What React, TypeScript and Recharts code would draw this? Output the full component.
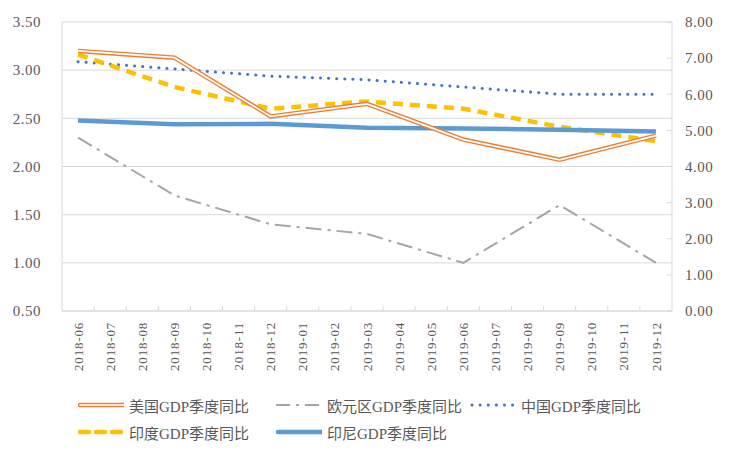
import { LineChart, Line, XAxis, YAxis, CartesianGrid } from 'recharts'

const months = [
  '2018-06', '2018-07', '2018-08', '2018-09', '2018-10', '2018-11', '2018-12',
  '2019-01', '2019-02', '2019-03', '2019-04', '2019-05', '2019-06', '2019-07',
  '2019-08', '2019-09', '2019-10', '2019-11', '2019-12',
]

// quarterly values, null for months in between
const usGdp = [3.2, null, null, 3.13, null, null, 2.52, null, null, 2.65, null, null, 2.28, null, null, 2.07, null, null, 2.32]
const euroGdp = [2.3, null, null, 1.7, null, null, 1.4, null, null, 1.3, null, null, 1.0, null, null, 1.6, null, null, 1.0]
const chinaGdp = [6.9, null, null, 6.7, null, null, 6.5, null, null, 6.4, null, null, 6.2, null, null, 6.0, null, null, 6.0]
const indiaGdp = [7.1, null, null, 6.2, null, null, 5.6, null, null, 5.8, null, null, 5.6, null, null, 5.1, null, null, 4.7]
const indonesiaGdp = [5.27, null, null, 5.17, null, null, 5.18, null, null, 5.07, null, null, 5.05, null, null, 5.02, null, null, 4.97]

const leftTicks = [0.5, 1, 1.5, 2, 2.5, 3, 3.5]
const rightTicks = [0, 1, 2, 3, 4, 5, 6, 7, 8]

const data = months.map((m, i) => ({
  month: m,
  us: usGdp[i],
  euro: euroGdp[i],
  china: chinaGdp[i],
  india: indiaGdp[i],
  indonesia: indonesiaGdp[i],
}))

const FONT = '"Liberation Serif", "Times New Roman", "Noto Sans CJK SC", serif'
const TEXT = '#595959'
const GRID = '#d9d9d9'
const BAND = 610 / months.length

const XTick = ({ x, y, payload, index }: any) => (
  <g>
    {index < months.length - 1 && (
      <line x1={x + BAND / 2} x2={x + BAND / 2} y1={y} y2={y - 5} stroke={GRID} />
    )}
    <text
      transform={`translate(${x},${y + 11}) rotate(-90)`}
      textAnchor="end"
      dy="0.35em"
      fill={TEXT}
      fontSize={13}
      letterSpacing={0.8}
      fontFamily={FONT}
    >
      {payload.value}
    </text>
  </g>
)

const RightTick = ({ x, y, payload }: any) => (
  <g>
    <line x1={x - 13} x2={x - 18} y1={y} y2={y} stroke={GRID} />
    <text x={x} y={y} dy="0.35em" fill={TEXT} fontSize={15} fontFamily={FONT} letterSpacing={0.5}>
      {payload.value.toFixed(2)}
    </text>
  </g>
)

const legendItems = [
  { name: '美国GDP季度同比', left: 78, top: 405, kind: 'us' },
  { name: '欧元区GDP季度同比', left: 276, top: 405, kind: 'euro' },
  { name: '中国GDP季度同比', left: 470, top: 405, kind: 'china' },
  { name: '印度GDP季度同比', left: 78, top: 432, kind: 'india' },
  { name: '印尼GDP季度同比', left: 276, top: 432, kind: 'indonesia' },
]

const LegendIcon = ({ kind }: { kind: string }) => (
  <svg width={46} height={10} style={{ display: 'block' }}>
    {kind === 'us' && (
      <>
        <line x1={2} x2={46} y1={5} y2={5} stroke="#ED7D31" strokeWidth={4.5} strokeLinecap="round" />
        <line x1={2} x2={46} y1={5} y2={5} stroke="#fbe5d6" strokeWidth={1.8} strokeLinecap="round" />
      </>
    )}
    {kind === 'euro' && (
      <line x1={0} x2={46} y1={5} y2={5} stroke="#A5A5A5" strokeWidth={2} strokeDasharray="14 6 3 6" />
    )}
    {kind === 'china' && (
      <line x1={2} x2={46} y1={5} y2={5} stroke="#4472C4" strokeWidth={3} strokeDasharray="0.1 8" strokeLinecap="round" />
    )}
    {kind === 'india' && (
      <line x1={2} x2={44} y1={5} y2={5} stroke="#FFC000" strokeWidth={4.5} strokeDasharray="9 7" strokeLinecap="round" />
    )}
    {kind === 'indonesia' && (
      <line x1={2} x2={46} y1={5} y2={5} stroke="#5B9BD5" strokeWidth={4.5} strokeLinecap="round" />
    )}
  </svg>
)

export default function App() {
  return (
    <div style={{ position: 'absolute', left: 0, top: 0, width: 732, height: 452, background: '#fff' }}>
      <LineChart width={732} height={452} data={data} margin={{ top: 22, right: 0, left: 0, bottom: 61 }}>
        <CartesianGrid yAxisId="left" vertical={false} stroke={GRID} />
        <XAxis
          dataKey="month"
          height={80}
          interval={0}
          padding={{ left: BAND / 2, right: BAND / 2 }}
          tickLine={false}
          tickSize={0}
          tickMargin={0}
          axisLine={{ stroke: GRID }}
          tick={<XTick />}
        />
        <YAxis
          yAxisId="left"
          width={62}
          domain={[0.5, 3.5]}
          ticks={leftTicks}
          tickFormatter={(v: number) => v.toFixed(2)}
          tickLine={false}
          tickMargin={15}
          axisLine={{ stroke: GRID }}
          tick={{ fill: TEXT, fontSize: 15, fontFamily: FONT, letterSpacing: 0.5 }}
        />
        <YAxis
          yAxisId="right"
          orientation="right"
          width={60}
          domain={[0, 8]}
          ticks={rightTicks}
          tickLine={false}
          tickSize={0}
          tickMargin={13}
          axisLine={{ stroke: GRID }}
          tick={<RightTick />}
        />
        <Line yAxisId="left" dataKey="euro" stroke="#A5A5A5" strokeWidth={2} strokeDasharray="16 6 3 6" dot={false} connectNulls isAnimationActive={false} />
        <Line yAxisId="right" dataKey="china" stroke="#4472C4" strokeWidth={3} strokeDasharray="0.1 8" strokeLinecap="round" dot={false} connectNulls isAnimationActive={false} />
        <Line yAxisId="right" dataKey="india" stroke="#FFC000" strokeWidth={4.5} strokeDasharray="10 7" dot={false} connectNulls isAnimationActive={false} />
        <Line yAxisId="right" dataKey="indonesia" stroke="#5B9BD5" strokeWidth={4.5} dot={false} connectNulls isAnimationActive={false} />
        <Line yAxisId="left" dataKey="us" stroke="#ED7D31" strokeWidth={4.5} dot={false} connectNulls isAnimationActive={false} />
        <Line yAxisId="left" dataKey="us" stroke="#ffffff" strokeWidth={1.8} dot={false} connectNulls isAnimationActive={false} legendType="none" />
      </LineChart>
      {legendItems.map((it) => (
        <div
          key={it.kind}
          style={{
            position: 'absolute',
            left: it.left,
            top: it.top - 11,
            height: 22,
            display: 'flex',
            alignItems: 'center',
            gap: 5,
            fontFamily: FONT,
            fontSize: 15,
            color: TEXT,
            whiteSpace: 'nowrap',
          }}
        >
          <LegendIcon kind={it.kind} />
          <span>{it.name}</span>
        </div>
      ))}
    </div>
  )
}
